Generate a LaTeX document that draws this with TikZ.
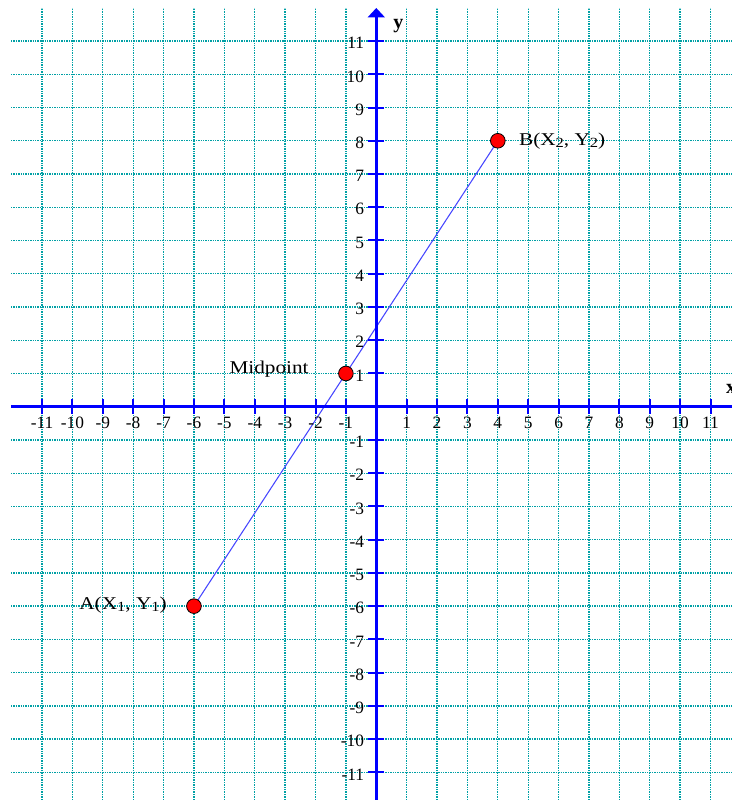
\documentclass[tikz,border=0pt]{standalone}
\usepackage{fontspec}
\setmainfont{Liberation Serif}
\newfontfamily\lblfont[FakeStretch=1.18]{Liberation Serif}
\usetikzlibrary{arrows.meta}
\definecolor{gridteal}{RGB}{0,160,165}
\definecolor{axisblue}{RGB}{0,0,255}
\definecolor{segblue}{RGB}{70,70,255}
\pgfdeclarelayer{gridlayer}
\pgfdeclarelayer{seglayer}
\pgfsetlayers{gridlayer,seglayer,main}
\tikzset{
 gridline/.style={gridteal, line width=1pt, dash pattern=on 1pt off 0.8pt},
 axisline/.style={axisblue, line width=2.4pt},
 tickline/.style={axisblue, line width=1.5pt},
 segline/.style={segblue, line width=0.8pt},
 ticklbl/.style={font=\fontsize{13}{13}\selectfont, inner sep=0pt},
 pointdot/.style={circle, fill=red, draw=black, line width=0.6pt, minimum size=11pt, inner sep=0pt},
 ptlabel/.style={font=\lblfont\fontsize{13.5}{13.5}\selectfont, inner sep=0pt},
 axislbl/.style={font=\bfseries\fontsize{15}{15}\selectfont, inner sep=0pt},
}
\newcommand\subsc[1]{\raisebox{-0.3ex}{\fontsize{10.5}{10.5}\selectfont #1}}
\begin{document}
\begin{tikzpicture}[x=22.79pt, y=24.93pt]
\useasboundingbox (-12.383,-11.832) rectangle (11.705,12.235);
\begin{pgfonlayer}{gridlayer}
\foreach \v in {-11,...,11} \draw[gridline] (-12.02,\v) -- (11.705,\v);
\foreach \u in {-11,...,11} \draw[gridline] (\u,-11.832) -- (\u,11.995);
\end{pgfonlayer}
\coordinate (xl) at (-12.02,0);
\coordinate (xr) at (11.705,0);
\coordinate (yb) at (0,-11.832);
\coordinate (yt) at (0,11.995);
\draw[axisline] (xl) -- (xr);
\draw[axisline, -{Triangle[width=12.5pt,length=7pt]}] (yb) -- (yt);
\foreach \i in {-11,...,11} {
  \draw[tickline] ([yshift=-5.6pt]\i,0) -- ([yshift=5.6pt]\i,0);
  \draw[tickline] ([xshift=-6pt]0,\i) -- ([xshift=6pt]0,\i);
}
\foreach \i in {-11,-10,...,-1,1,2,...,11} {
  \node[ticklbl, anchor=base] (xt\i) at ([yshift=-16.3pt]\i,0) {\i};
  \node[ticklbl, anchor=base east] (yt\i) at ([xshift=-9pt,yshift=-5.8pt]0,\i) {\i};
}
\node[axislbl, anchor=base west] (ylab) at (0.55,11.39) {y};
\node[axislbl, anchor=base west] (xlab) at (11.505,0.41) {x};
\node[pointdot] (A) at (-6,-6) {};
\node[pointdot] (M) at (-1,1) {};
\node[pointdot] (B) at (4,8) {};
\begin{pgfonlayer}{seglayer}
\draw[segline] (A.center) -- (B.center);
\end{pgfonlayer}
\node[ptlabel, anchor=west] (Bl) at ([xshift=15.75pt]B.center) {B(X\subsc{2}, Y\subsc{2})};
\node[ptlabel, anchor=east] (Ml) at ([xshift=-27.75pt,yshift=3pt]M.center) {Midpoint};
\node[ptlabel, anchor=east] (Al) at ([xshift=-20.25pt,yshift=0.75pt]A.center) {A(X\subsc{1}, Y\subsc{1})};
\end{tikzpicture}
\end{document}
